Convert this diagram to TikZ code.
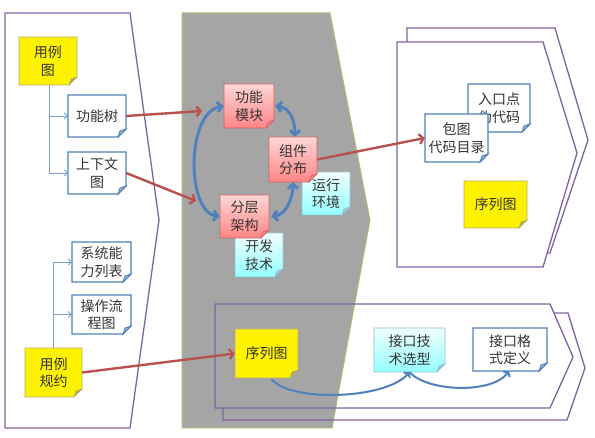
\documentclass[tikz,border=0pt]{standalone}
\usepackage{fontspec}
\newfontfamily\cjk{Noto Sans CJK SC}
\usetikzlibrary{arrows.meta}
\definecolor{panelpurple}{HTML}{8064A2}
\definecolor{panelgray}{HTML}{A5A5A5}
\definecolor{panelgreen}{HTML}{A9BE78}
\definecolor{arrowblue}{HTML}{4F81BD}
\definecolor{arrowred}{HTML}{B9514F}
\definecolor{textgray}{HTML}{353535}
\tikzset{
  panel/.style={draw=panelpurple, line width=1.3pt, line join=miter},
  notetext/.style={inner sep=0pt, align=center, text=textgray,
    font=\cjk\fontsize{14}{17.5}\selectfont},
  ybody/.style={fill=yellow, draw=olive!45!gray!70, line width=0.7pt},
  yfold/.style={fill=olive!55!yellow!80!gray, draw=olive!45!gray!70, line width=0.5pt},
  wbody/.style={fill=white, draw=arrowblue, line width=1.3pt},
  wfold/.style={fill=arrowblue!55, draw=arrowblue, line width=0.8pt},
  pbody/.style={top color=red!16, bottom color=red!48!white, draw=red!55!gray!80, line width=0.7pt},
  pfold/.style={fill=red!50!white, draw=red!55!gray!80, line width=0.5pt},
  bbody/.style={top color=cyan!6, bottom color=cyan!42, draw=cyan!45!gray!70, line width=0.7pt},
  bfold/.style={fill=cyan!45!gray!60, draw=cyan!45!gray!70, line width=0.5pt},
  conn/.style={draw=arrowblue!75, line width=0.9pt, -{Straight Barb[length=3pt,width=6pt]}},
  bigblue/.style={draw=arrowblue, line width=3pt, {Straight Barb[length=4.5pt,width=10pt]}-{Straight Barb[length=4.5pt,width=10pt]}},
  thinblue/.style={draw=arrowblue, line width=2pt, -{Straight Barb[length=3pt,width=8pt]}},
  redarrow/.style={draw=arrowred, line width=2.4pt, -{Straight Barb[length=4pt,width=10pt]}},
}
% name, x1, y1, x2, y2, body style, fold style, text
\newcommand\stickynote[8]{%
  \path[#6] (#2,#3) -- (#4,#3) -- (#4,#5-8) -- (#4-8,#5) -- (#2,#5) -- cycle;
  \path[#7] (#4,#5-8) -- (#4-8,#5) -- (#4-6,#5-6) -- cycle;
  \node[notetext, minimum width={(#4-#2)*1pt}, minimum height={(#5-#3)*1pt}]
    (#1) at ({(#2+#4)/2},{(#3+#5)/2}) {#8};
}
\begin{document}
\begin{tikzpicture}[x=1pt, y=-1pt]
\useasboundingbox (0,0) rectangle (595,438);
\fill[white] (0,0) rectangle (595,438);

% left panel
\draw[panel] (5,13) -- (130,13) -- (159,220) -- (130,428) -- (5,428) -- cycle;

% gray middle panel
\draw[fill=panelgray, draw=panelgreen, line width=1pt] (182,13) -- (330,13) -- (370,220) -- (332,428) -- (182,428) -- cycle;

% top right panels
\draw[panel, fill=white] (407,28) -- (555,28) -- (588,140) -- (550,253) -- (407,253) -- cycle;
\draw[panel, fill=white] (397,42) -- (543,42) -- (577,153) -- (543,267) -- (397,267) -- cycle;

% bottom panels (outline only)
\draw[panel] (554,313) -- (568,313) -- (585,368) -- (567,420) -- (223,420) -- (223,408);
\draw[panel] (215,304) -- (550,304) -- (573,357) -- (550,408) -- (215,408) -- cycle;

% left panel notes
\stickynote{uc}{19}{37}{77}{85}{ybody}{yfold}{用例\\图}
\stickynote{tree}{68}{95}{126}{137}{wbody}{wfold}{功能树}
\stickynote{ctx}{68}{152}{126}{194}{wbody}{wfold}{上下文\\图}
\stickynote{sys}{72}{242}{131}{282}{wbody}{wfold}{系统能\\力列表}
\stickynote{op}{72}{295}{131}{334}{wbody}{wfold}{操作流\\程图}
\stickynote{spec}{25}{348}{82}{397}{ybody}{yfold}{用例\\规约}

\draw[conn] ([xshift=1pt]uc.south) |- (tree.west);
\draw[conn] ([xshift=1pt]uc.south) |- (ctx.west);
\draw[conn] (spec.north) |- (sys.west);
\draw[conn] (spec.north) |- (op.west);

% middle notes
\stickynote{env}{302}{172}{350}{215}{bbody}{bfold}{运行\\环境}
\stickynote{dev}{235}{233}{283}{277}{bbody}{bfold}{开发\\技术}
\stickynote{fmod}{224}{84}{274}{128}{pbody}{pfold}{功能\\模块}
\stickynote{comp}{269}{137}{317}{182}{pbody}{pfold}{组件\\分布}
\stickynote{layer}{220}{195}{269}{238}{pbody}{pfold}{分层\\架构}

\draw[bigblue] (fmod.west) .. controls (186,112) and (186,212) .. (layer.west);
\draw[bigblue] ([xshift=1pt]fmod.east) .. controls +(16,2) and +(0,-14) .. ([xshift=2pt]comp.north);
\draw[bigblue] ([xshift=2pt]layer.east) .. controls +(16,-2) and +(0,14) .. (comp.south);

% top right notes
\stickynote{entry}{468}{84}{530}{132}{wbody}{wfold}{入口点\\伪代码}
\stickynote{pkg}{425}{114}{488}{162}{wbody}{wfold}{包图\\代码目录}
\stickynote{seq1}{464}{181}{527}{228}{ybody}{yfold}{序列图}

% bottom notes
\stickynote{seq2}{235}{329}{298}{378}{ybody}{yfold}{序列图}
\stickynote{tech}{374}{328}{445}{372}{bbody}{bfold}{接口技\\术选型}
\stickynote{fmt}{473}{328}{547}{371}{wbody}{wfold}{接口格\\式定义}

\draw[thinblue] ([xshift=5pt,yshift=-1pt]seq2.south) .. controls (290,402) and (385,400) .. (tech.south);
\draw[thinblue] (tech.south) .. controls (428,392) and (492,394) .. ([xshift=-1pt]fmt.south);

% red arrows
\coordinate (tip1) at (202,111);
\coordinate (tip2) at (196,201);
\draw[redarrow] (tree.east) -- (tip1);
\draw[redarrow] (ctx.east) -- (tip2);
\draw[redarrow] (comp.east) -- (pkg.west);
\draw[redarrow] (spec.east) -- (seq2.west);
\end{tikzpicture}
\end{document}
